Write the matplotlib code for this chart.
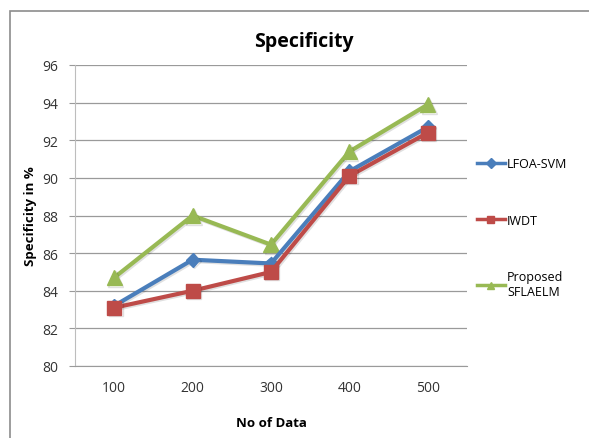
import matplotlib.pyplot as plt
import matplotlib.patheffects as pe
from matplotlib.patches import Rectangle

plt.rcParams['font.family'] = ['Open Sans', 'DejaVu Sans']

categories = ['100', '200', '300', '400', '500']
lfoa_svm = [83.2, 85.65, 85.45, 90.35, 92.7]
iwdt = [83.1, 84.0, 85.0, 90.1, 92.4]
sflaelm = [84.7, 88.0, 86.45, 91.4, 93.9]

fig = plt.figure(figsize=(5.89, 4.39), dpi=100)
ax = fig.add_axes([75 / 589, 1 - 367 / 439, 392 / 589, 301 / 439])

# chart frame
fig.patches.append(Rectangle((10 / 589, -0.05), 1.1, 1 - 12 / 439 + 0.05,
                             transform=fig.transFigure, fill=False,
                             edgecolor='#8c8c8c', linewidth=1.2))

x = range(len(categories))
shadow = [pe.SimpleLineShadow(offset=(1, -1), alpha=0.12), pe.Normal()]
ax.plot(x, lfoa_svm, color='#4a7ebb', linewidth=3, marker='D', markersize=7,
        label='LFOA-SVM', path_effects=shadow, zorder=3)
ax.plot(x, iwdt, color='#be4b48', linewidth=3, marker='s', markersize=10,
        label='IWDT', path_effects=shadow, zorder=4)
ax.plot(x, sflaelm, color='#98b954', linewidth=3, marker='^', markersize=11,
        label='Proposed\nSFLAELM', path_effects=shadow, zorder=2)

ax.set_xlim(-0.5, 4.5)
ax.set_ylim(80, 96)
ax.set_yticks(range(80, 97, 2))
ax.set_xticks(list(x))
ax.set_xticklabels(categories)
ax.grid(axis='y', color='#9a9a9a', linewidth=0.9)
ax.set_axisbelow(True)
for s in ['top', 'right']:
    ax.spines[s].set_visible(False)
ax.spines['left'].set_color('#bdbdbd')
ax.spines['bottom'].set_color('#9a9a9a')
ax.tick_params(axis='y', length=4, color='#9a9a9a', labelsize=10, pad=8, labelcolor='#333333')
ax.tick_params(axis='x', length=0, labelsize=10, pad=10, labelcolor='#333333')

ax.set_xlabel('No of Data', fontsize=9.5, fontweight='bold', labelpad=15)
ax.set_ylabel('Specificity in %', fontsize=9.5, fontweight='bold', labelpad=4)
fig.text(304 / 589, 1 - 42 / 439, 'Specificity', ha='center', va='center',
         fontsize=14, fontweight='bold')

leg = fig.legend(loc='upper left', bbox_to_anchor=(472 / 589, 1 - 153 / 439),
                 frameon=False, fontsize=9, labelspacing=3.5, handlelength=2.2,
                 handletextpad=0.2, borderaxespad=0)
for h in leg.legend_handles:
    h.set_markersize(5)
    h.set_linewidth(2.5)
    h.set_path_effects([pe.Normal()])

fig.savefig('out.png', dpi=100)
